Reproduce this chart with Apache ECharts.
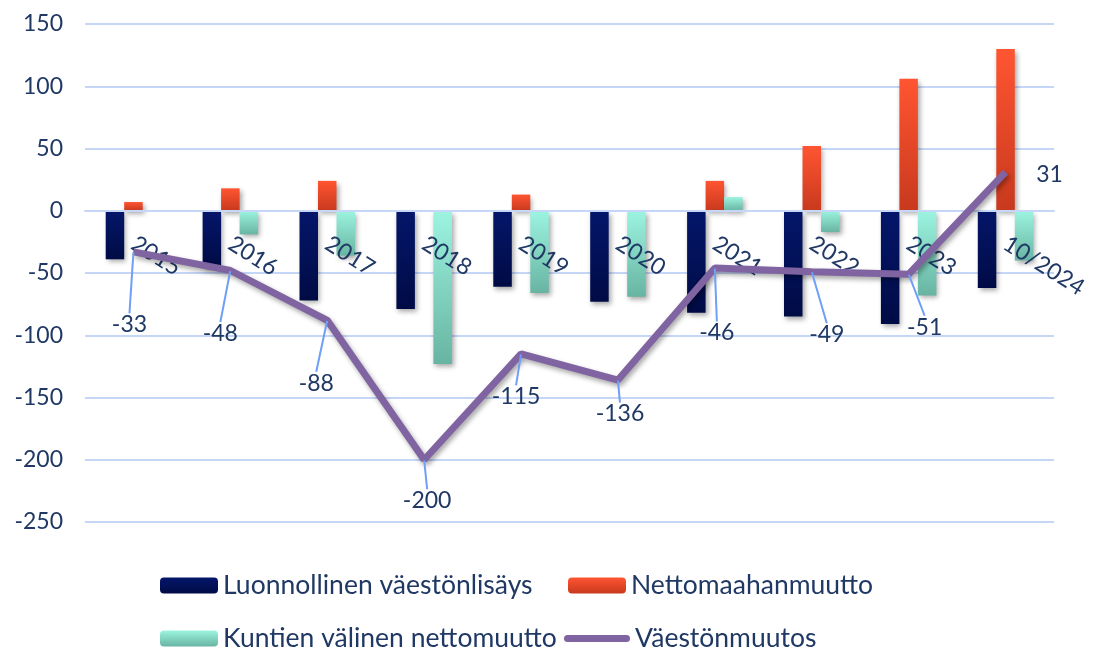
<!DOCTYPE html>
<html>
<head>
<meta charset="utf-8">
<script src="https://cdn.jsdelivr.net/npm/echarts@6/dist/echarts.min.js"></script>
<style>
  html, body { margin: 0; padding: 0; background: #fff; }
  #chart { width: 1096px; height: 648px; }
</style>
</head>
<body>
<div id="chart"></div>
<script>
// vuodet
var categories = ['2015', '2016', '2017', '2018', '2019', '2020', '2021', '2022', '2023', '10/2024'];
// Luonnollinen väestönlisäys
var naturalIncrease = [-39, -45, -72, -79, -61, -73, -82, -85, -91, -62];
// Nettomaahanmuutto
var netImmigration = [7, 18, 24, 0, 13, 0, 24, 52, 106, 130];
// Kuntien välinen nettomuutto
var netMunicipal = [0, -19, -36, -123, -66, -69, 11, -17, -68, -40];
// Väestönmuutos
var popChange = [-33, -48, -88, -200, -115, -136, -46, -49, -51, 31];
var yTicks = [-250, -200, -150, -100, -50, 0, 50, 100, 150];

// label nudges for the line labels (dx, dy)
var labelNudge = [[-4, 73], [-10, 63], [-11, 63], [3, 41], [-5, 43], [2, 34], [2, 65], [15, 63], [16, 53], [44, 2]];

var FONT = 'Lato, "Open Sans", sans-serif';
var TXT = '#1f3864';

var GRID_TOP = 24, GRID_H = 498;
var yMin = yTicks[0], yMax = yTicks[yTicks.length - 1];
// move the category axis up onto the zero line
var zeroOffset = -GRID_H * (0 - yMin) / (yMax - yMin);

function grad(top, bottom) {
  return new echarts.graphic.LinearGradient(0, 0, 0, 1, [
    { offset: 0, color: top },
    { offset: 1, color: bottom }
  ]);
}

var barShadow = {
  shadowColor: 'rgba(0,0,0,0.35)',
  shadowBlur: 5,
  shadowOffsetX: 2,
  shadowOffsetY: 3
};

var navy = grad('#04166a', '#000b45');
var orange = grad('#ff5532', '#c8391d');
var aqua = grad('#9cf4e0', '#68b4a2');
var purple = '#8064a2';

var chart = echarts.init(document.getElementById('chart'));

function legendItem(name, left, top, icon) {
  var d = { name: name };
  if (icon) d.icon = icon;
  return {
    left: left,
    top: top,
    itemWidth: 58,
    itemHeight: 16,
    itemGap: 0,
    textStyle: { fontFamily: FONT, fontSize: 26.5, color: TXT, padding: [0, 0, 0, 0] },
    data: [d]
  };
}

// rounded thick line for the Väestönmuutos legend icon
var lineIcon = 'path://M0,0 M66,16 M3.5,4.5 L62.5,4.5 A3.5,3.5 0 0 1 62.5,11.5 L3.5,11.5 A3.5,3.5 0 0 1 3.5,4.5 Z';

var option = {
  backgroundColor: '#ffffff',
  animation: false,
  textStyle: { fontFamily: FONT },
  grid: { left: 85, right: 42, top: GRID_TOP, height: GRID_H, containLabel: false },
  legend: [
    legendItem('Luonnollinen väestönlisäys', 155, 567),
    legendItem('Nettomaahanmuutto', 563, 567),
    legendItem('Kuntien välinen nettomuutto', 155, 620),
    Object.assign(legendItem('Väestönmuutos', 559, 620, lineIcon), { itemWidth: 66 })
  ],
  xAxis: {
    type: 'category',
    data: categories,
    offset: zeroOffset,
    axisLine: { show: true, onZero: false, lineStyle: { color: '#c6d6f7', width: 2 } },
    axisTick: { show: false },
    axisLabel: {
      interval: 0,
      rotate: -32,
      margin: 31,
      fontFamily: FONT,
      fontSize: 23,
      color: TXT
    },
    z: 3
  },
  yAxis: {
    type: 'value',
    min: yMin,
    max: yMax,
    interval: 50,
    axisLine: { show: false },
    axisTick: { show: false },
    axisLabel: { margin: 22, fontFamily: FONT, fontSize: 23, color: TXT },
    splitLine: { lineStyle: { color: '#c6d6f7', width: 2 } }
  },
  series: [
    {
      name: 'Luonnollinen väestönlisäys',
      type: 'bar',
      barWidth: 18.5,
      barGap: '0%',
      itemStyle: Object.assign({ color: navy }, barShadow),
      data: naturalIncrease
    },
    {
      name: 'Nettomaahanmuutto',
      type: 'bar',
      barWidth: 18.5,
      barGap: '0%',
      itemStyle: Object.assign({ color: orange }, barShadow),
      data: netImmigration
    },
    {
      name: 'Kuntien välinen nettomuutto',
      type: 'bar',
      barWidth: 18.5,
      barGap: '0%',
      itemStyle: Object.assign({ color: aqua }, barShadow),
      data: netMunicipal
    },
    {
      name: 'Väestönmuutos',
      type: 'line',
      symbol: 'circle',
      symbolSize: 1,
      z: 5,
      itemStyle: { color: purple },
      lineStyle: {
        color: purple,
        width: 7,
        shadowColor: 'rgba(0,0,0,0.35)',
        shadowBlur: 5,
        shadowOffsetX: 2,
        shadowOffsetY: 3
      },
      label: {
        show: true,
        position: 'inside',
        fontFamily: FONT,
        fontSize: 23,
        color: TXT
      },
      labelLine: {
        show: true,
        lineStyle: { color: '#6f9ff7', width: 2 }
      },
      labelLayout: function (params) {
        var n = labelNudge[params.dataIndex];
        return { dx: n[0], dy: n[1] };
      },
      data: popChange.map(function (v, i) {
        return i === popChange.length - 1 ? { value: v, labelLine: { show: false } } : v;
      })
    }
  ]
};

chart.setOption(option);
</script>
</body>
</html>
